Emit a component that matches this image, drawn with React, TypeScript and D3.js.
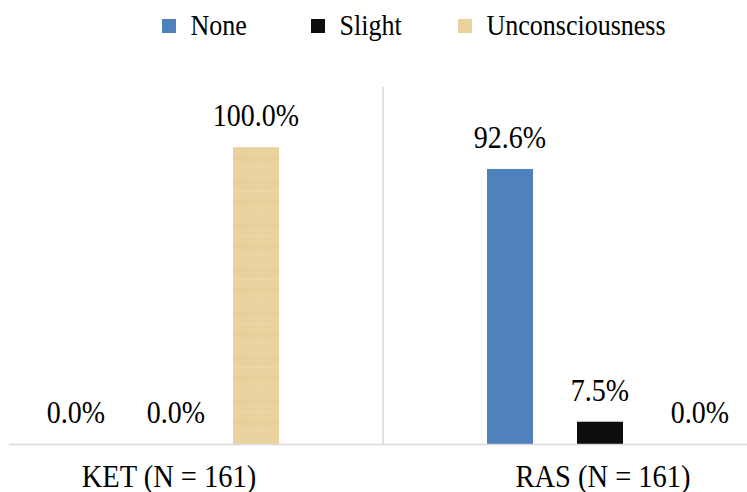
import React from "react";
import * as d3 from "d3";

const categories = ["KET (N = 161)", "RAS (N = 161)"];
const seriesNames = ["None", "Slight", "Unconsciousness"];
const noneValues = [0.0, 92.6];
const slightValues = [0.0, 7.5];
const unconsciousValues = [100.0, 0.0];
const seriesColors = ["#4F81BD", "#0D0D0D", "url(#papyrus)"];
const legendSwatch = ["#4F81BD", "#0D0D0D", "#E9D29E"];

const W = 747;
const H = 492;
const FONT = "'Liberation Serif', 'Times New Roman', serif";
const SY = 1.1;

export default function App() {
  const baseY = 444;
  const x0 = d3.scaleBand<string>().domain(categories).range([-51, 817]).paddingInner(0).paddingOuter(0);
  const half = x0.bandwidth() / 2;
  const x1 = d3.scaleBand<string>().domain(seriesNames).range([half - 113, half + 113]).paddingInner(44 / 90).paddingOuter(0);
  const y = d3.scaleLinear().domain([0, 100]).range([baseY, baseY - 297]);
  const allSeries = [noneValues, slightValues, unconsciousValues];

  const legendX = [162, 311, 458];

  const Txt = ({ x, y: ty, size, anchor, children }: any) => (
    <text transform={`translate(${x},${ty}) scale(1,${SY})`} fontFamily={FONT} fontSize={size} textAnchor={anchor} fill="#000">
      {children}
    </text>
  );

  const sepX = (x0(categories[0])! + x0.bandwidth() + x0(categories[1])!) / 2;

  return (
    <svg width={W} height={H} style={{ position: "absolute", left: 0, top: 0, background: "#fff" }}>
      <defs>
        <pattern id="papyrus" patternUnits="userSpaceOnUse" width="46" height="44" x="0" y="0">
          <rect width="46" height="44" fill="#EAD29F" />
          <rect x="0" y="5" width="46" height="2" fill="#E4CA92" opacity="0.5" />
          <rect x="0" y="15" width="46" height="1" fill="#F0DCAE" opacity="0.6" />
          <rect x="0" y="25" width="46" height="2" fill="#E2C78D" opacity="0.4" />
          <rect x="0" y="35" width="46" height="1" fill="#EFDBAC" opacity="0.6" />
          <rect x="13" y="0" width="1" height="44" fill="#E5CB93" opacity="0.35" />
          <rect x="31" y="0" width="1" height="44" fill="#F1DDB1" opacity="0.45" />
        </pattern>
      </defs>
      {/* separator */}
      <line x1={sepX} x2={sepX} y1={87} y2={baseY} stroke="#D9D9D9" strokeWidth={1.5} />
      {/* bars */}
      {categories.map((c, ci) =>
        seriesNames.map((s, si) => {
          const v = allSeries[si][ci];
          const bx = x0(c)! + x1(s)!;
          const top = y(v);
          return v > 0 ? (
            <rect key={c + s} x={bx} y={top} width={x1.bandwidth()} height={baseY - top} fill={seriesColors[si]} />
          ) : null;
        })
      )}
      {/* axis line */}
      <line x1={9} x2={W} y1={baseY + 0.5} y2={baseY + 0.5} stroke="#D9D9D9" strokeWidth={1.5} />
      {/* labels */}
      {categories.map((c, ci) =>
        seriesNames.map((s, si) => {
          const v = allSeries[si][ci];
          const cx = x0(c)! + x1(s)! + x1.bandwidth() / 2 + (v === 0 && si > 0 ? 10 : 0);
          return (
            <Txt key={"l" + c + s} x={cx} y={y(v) - 21} size={28} anchor="middle">
              {v.toFixed(1) + "%"}
            </Txt>
          );
        })
      )}
      {categories.map((c) => (
        <Txt key={"c" + c} x={x0(c)! + half + 3} y={487} size={28.5} anchor="middle">
          {c}
        </Txt>
      ))}
      {/* legend */}
      {seriesNames.map((s, i) => (
        <g key={"lg" + s}>
          <rect x={legendX[i]} y={19} width={14} height={14} fill={legendSwatch[i]} />
          <Txt x={legendX[i] + 28.5} y={35} size={26} anchor="start">
            {s}
          </Txt>
        </g>
      ))}
    </svg>
  );
}
